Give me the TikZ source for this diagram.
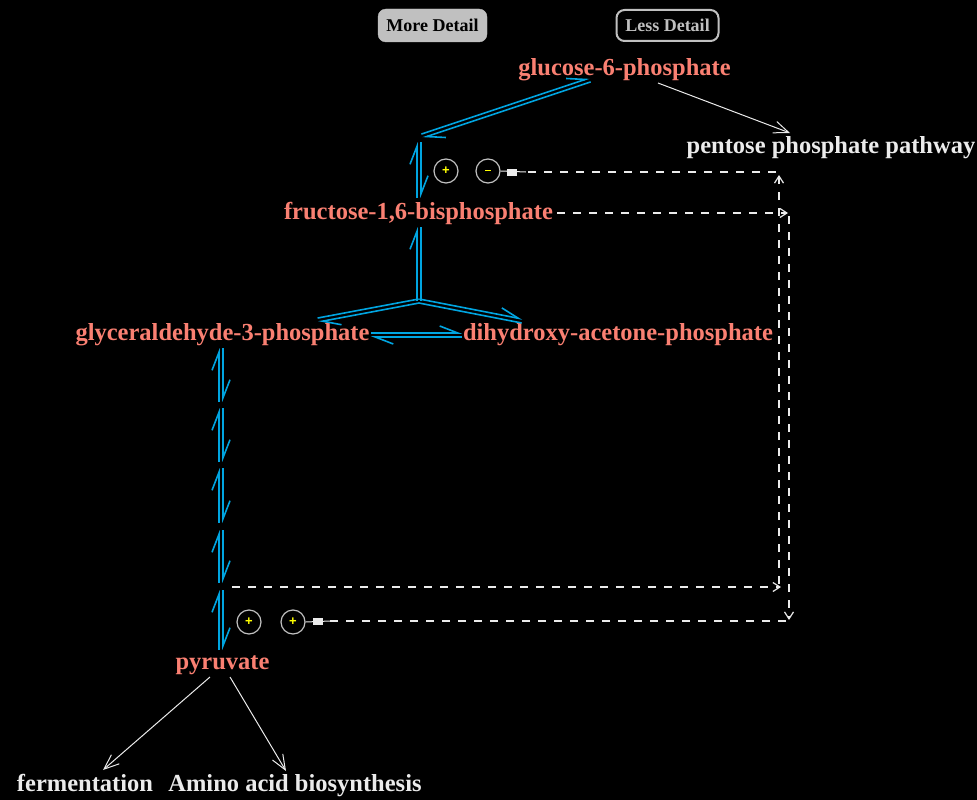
\documentclass[tikz,border=0pt]{standalone}
\usepackage{fontspec}
\setmainfont{Liberation Serif}
\setsansfont{Liberation Sans}
\usetikzlibrary{arrows.meta,calc}
\definecolor{rxblue}{RGB}{0,165,225}
\definecolor{metab}{RGB}{250,128,114}
\definecolor{ltxt}{RGB}{235,235,235}
\definecolor{btn}{RGB}{192,192,192}
\definecolor{sgn}{RGB}{255,255,0}
\tikzset{
 met/.style={text=metab,font=\bfseries\fontsize{24.5}{28}\selectfont,inner sep=0pt,anchor=base},
 oth/.style={met,text=ltxt},
 rx/.style={draw=rxblue,line width=1.6pt},
 hb/.style={-{Straight Barb[left,length=18pt,width=14pt]}},
 dsh/.style={draw=ltxt,line width=1.2pt,dash pattern=on 8pt off 8pt},
 dtip/.style={-{Straight Barb[length=7pt,width=9pt]}},
 wline/.style={draw=ltxt,line width=1pt},
 wtip/.style={-{Straight Barb[length=15pt,width=12pt]}},
 eff/.style={circle,draw=btn,line width=1.2pt,minimum size=24pt,inner sep=0pt,text=sgn,font=\bfseries\sffamily\fontsize{13}{13}\selectfont},
 btnA/.style={rounded corners=8pt,fill=btn,draw=btn,minimum width=109pt,minimum height=33pt,inner sep=0pt,text=black,font=\bfseries\fontsize{18}{18}\selectfont},
 btnB/.style={rounded corners=8pt,fill=black,draw=btn,line width=2pt,minimum width=102pt,minimum height=31pt,inner sep=0pt,text=btn,font=\bfseries\fontsize{18}{18}\selectfont},
}
\newcommand\rxn[2]{%
 \draw[rx,hb] ($(#1)!2pt!90:(#2)$) -- ($(#2)!2pt!-90:(#1)$);
 \draw[rx,hb] ($(#2)!2pt!90:(#1)$) -- ($(#1)!2pt!-90:(#2)$);}
\newcommand\rxf[2]{%
 \draw[rx,hb] ($(#1)!2pt!90:(#2)$) -- ($(#2)!2pt!-90:(#1)$);
 \draw[rx] ($(#2)!2pt!90:(#1)$) -- ($(#1)!2pt!-90:(#2)$);}
\begin{document}
\begin{tikzpicture}[x=1pt,y=-1pt]
\useasboundingbox (0,0) rectangle (977,800);
\fill[black] (0,0) rectangle (977,800);
% buttons
\node[btnA] (more) at (432.5,25.5) {More Detail};
\node[btnB] (less) at (667.5,25.5) {Less Detail};
% metabolites
\node[met] (g6p) at (624.5,75) {glucose-6-phosphate};
\node[oth] (ppp) at (831,153) {pentose phosphate pathway};
\node[met] (f16) at (418.5,219) {fructose-1,6-bisphosphate};
\node[met] (g3p) at (222.5,340) {glyceraldehyde-3-phosphate};
\node[met] (dhap) at (618,340) {dihydroxy-acetone-phosphate};
\node[met] (pyr) at (222.5,669) {pyruvate};
\node[oth] (ferm) at (85,791) {fermentation};
\node[oth] (amino) at (295,791) {Amino acid biosynthesis};
% reaction waypoints
\coordinate (k1) at (422,136);
\coordinate (g6e) at (590,80);
\coordinate (v1t) at (419,142);
\coordinate (v1b) at (419,198);
\coordinate (st) at (419,227);
\coordinate (jn) at (419,301);
\coordinate (gle) at (318,320);
\coordinate (dhe) at (522,321);
\coordinate (gaE) at (371,335);
\coordinate (daW) at (462,335);
\coordinate (s1t) at (221,348); \coordinate (s1b) at (221,402);
\coordinate (s2t) at (221,408); \coordinate (s2b) at (221,462);
\coordinate (s3t) at (221,468); \coordinate (s3b) at (221,523);
\coordinate (s4t) at (221,530); \coordinate (s4b) at (221,583);
\coordinate (s5t) at (221,590); \coordinate (s5b) at (221,650);
% reactions
\rxn{k1}{g6e}
\rxn{v1b}{v1t}
\rxf{jn}{st}
\rxf{jn}{gle}
\rxf{jn}{dhe}
\rxn{gaE}{daW}
\rxn{s1b}{s1t}
\rxn{s2b}{s2t}
\rxn{s3b}{s3t}
\rxn{s4b}{s4t}
\rxn{s5b}{s5t}
% effectors
\node[eff] (e1) at (446,171) {+};
\node[eff] (e2) at (488,171) {\raisebox{1pt}{\rule{6pt}{1.8pt}}};
\node[eff] (e3) at (249,622) {+};
\node[eff] (e4) at (293,622) {+};
% regulation: F16BP -> pyruvate kinase
\coordinate (d1a) at (557,213);
\coordinate (d1b) at (788,213);
\coordinate (d1c) at (789,216);
\coordinate (d1d) at (789,620);
\coordinate (d1e) at (786,621);
\coordinate (d1f) at (330,621);
\draw[dsh,dtip] (d1a) -- (d1b);
\draw[dsh,dtip] (d1c) -- (d1d);
\draw[dsh] (d1e) -- (d1f);
\draw[wline] (d1f) -- (e4.east);
\fill[ltxt] (313,617.5) rectangle (323,624.5);
% regulation: -> PFK inhibition
\coordinate (d2a) at (232,587);
\coordinate (d2b) at (781,587);
\coordinate (d2c) at (779,584);
\coordinate (d2d) at (779,175);
\coordinate (d2e) at (776,172);
\coordinate (d2f) at (526,172);
\draw[dsh,dtip] (d2a) -- (d2b);
\draw[dsh,dtip] (d2c) -- (d2d);
\draw[dsh] (d2e) -- (d2f);
\draw[wline] (d2f) -- (e2.east);
\fill[ltxt] (507,168.5) rectangle (517,175.5);
% outgoing pathways
\coordinate (a1s) at (658,83);
\coordinate (a1e) at (790,133);
\coordinate (a2s) at (210,677);
\coordinate (a2e) at (103,770);
\coordinate (a3s) at (230,677);
\coordinate (a3e) at (286,771);
\draw[wline,wtip] (a1s) -- (a1e);
\draw[wline,wtip] (a2s) -- (a2e);
\draw[wline,wtip] (a3s) -- (a3e);
\end{tikzpicture}
\end{document}
